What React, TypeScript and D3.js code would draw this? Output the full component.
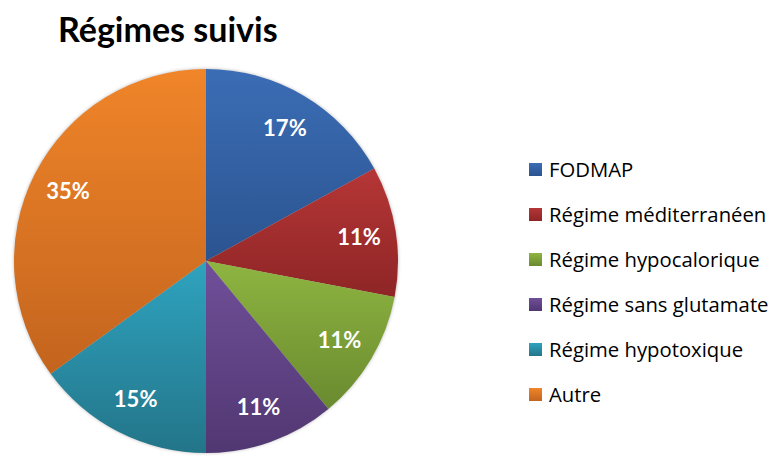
import React from "react";
import * as d3 from "d3";

const categories = [
  "FODMAP",
  "Régime méditerranéen",
  "Régime hypocalorique",
  "Régime sans glutamate",
  "Régime hypotoxique",
  "Autre",
];
const values = [17, 11, 11, 11, 15, 35];
const topColors = ["#3b6db5", "#b63636", "#8eb541", "#704f99", "#2fa3bf", "#f08529"];
const bottomColors = ["#2b5490", "#8e2526", "#6a8a2f", "#513772", "#237589", "#c3641e"];

const W = 775;
const H = 461;
const cx = 206;
const cy = 261;
const R = 192;
const labelR = 155;

export default function App() {
  const pie = d3.pie<number>().sort(null).value((d) => d);
  const arcs = pie(values);
  const arcGen = d3.arc<d3.PieArcDatum<number>>().innerRadius(0).outerRadius(R);
  const labelArc = d3.arc<d3.PieArcDatum<number>>().innerRadius(labelR).outerRadius(labelR);
  const legendY = d3.scalePoint<number>().domain(d3.range(categories.length)).range([170, 395]);

  return (
    <svg
      width={W}
      height={H}
      style={{ position: "absolute", left: 0, top: 0, background: "#fff" }}
      fontFamily="Lato, 'Open Sans', sans-serif"
    >
      <defs>
        {arcs.map((_, i) => (
          <linearGradient key={i} id={`g${i}`} x1="0" y1="0" x2="0" y2="1">
            <stop offset="0" stopColor={topColors[i]} />
            <stop offset="1" stopColor={bottomColors[i]} />
          </linearGradient>
        ))}
        <filter id="shadow" x="-10%" y="-10%" width="120%" height="120%">
          <feGaussianBlur stdDeviation="1.5" />
        </filter>
      </defs>
      <text x={58} y={42} fontSize={34} fontWeight={700} fill="#000">
        Régimes suivis
      </text>
      <g transform={`translate(${cx},${cy})`}>
        <circle r={R + 0.5} fill="#c8c8c8" filter="url(#shadow)" />
        {arcs.map((a, i) => (
          <path key={i} d={arcGen(a) || ""} fill={`url(#g${i})`} />
        ))}
        {arcs.map((a, i) => {
          const [x, y] = labelArc.centroid(a);
          return (
            <text
              key={i}
              x={x}
              y={y}
              dy="0.36em"
              textAnchor="middle"
              fontSize={22}
              fontWeight={700}
              fill="#fff"
            >
              {`${a.data}%`}
            </text>
          );
        })}
      </g>
      {categories.map((c, i) => (
        <g key={c} transform={`translate(529,${legendY(i)})`}>
          <rect x={0} y={-7} width={13} height={13} fill={`url(#g${i})`} />
          <text
            x={20}
            y={0}
            dy="0.36em"
            fontSize={20.3}
            fontFamily="'Open Sans', sans-serif"
            fill="#000"
          >
            {c}
          </text>
        </g>
      ))}
    </svg>
  );
}
